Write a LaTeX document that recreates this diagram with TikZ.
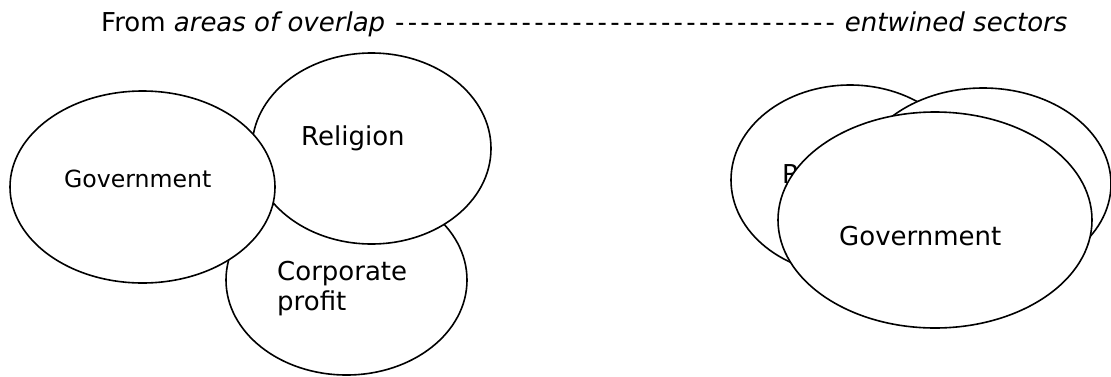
\documentclass[tikz,border=0pt]{standalone}
\usepackage{fontspec}
\setmainfont{DejaVu Sans}
\usetikzlibrary{shapes.geometric}
\newcommand{\dsh}{\makebox[12.66pt]{-}}
\begin{document}
\begin{tikzpicture}[x=1pt,y=-1pt,
  blob/.style={ellipse,draw,fill=white,line width=1.6pt,inner sep=0pt},
  lbl/.style={anchor=base west,inner sep=0pt,font=\fontsize{26}{30}\selectfont},
  smalllbl/.style={lbl,font=\fontsize{23.6}{28}\selectfont}]
\useasboundingbox (0,0) rectangle (1111,376);
% title
\node[lbl] (title) at (101,31) {From \textit{areas of overlap} \dsh\dsh\dsh\dsh\dsh\dsh\dsh\dsh\dsh\dsh\dsh\dsh\dsh\dsh\dsh\dsh\dsh\dsh\dsh\dsh\dsh\dsh\dsh\dsh\dsh\dsh\dsh\dsh\dsh\dsh\dsh\dsh\dsh\dsh\dsh{} \textit{entwined sectors}};
% left cluster
\node[blob,minimum width=241pt,minimum height=190pt] (corp) at (346.5,280) {};
\node[lbl,align=left] (corpt) at (277,310) {Corporate\\profit};
\node[blob,minimum width=239pt,minimum height=191pt] (rel) at (371.5,148.5) {};
\node[lbl] (relt) at (301,145) {Religion};
\node[blob,minimum width=265pt,minimum height=192pt] (gov) at (142.5,187) {};
\node[smalllbl] (govt) at (64,187) {Government};
% right cluster
\node[blob,minimum width=238pt,minimum height=190pt] (rrel) at (850,180) {};
\node[lbl] (rrelt) at (782,183) {Religion};
\node[blob,minimum width=256pt,minimum height=192pt] (rcorp) at (983,184) {};
\node[blob,minimum width=314pt,minimum height=216pt] (rgov) at (935,220) {};
\node[lbl] (rgovt) at (839,245) {Government};
\end{tikzpicture}
\end{document}
